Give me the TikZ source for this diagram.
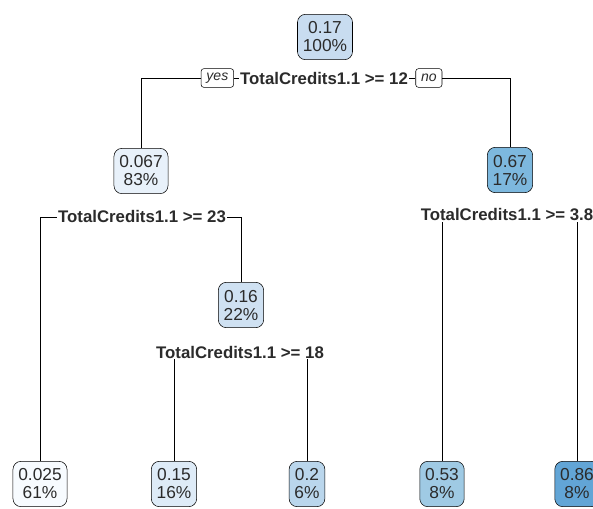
\documentclass[tikz,border=0pt]{standalone}
\usepackage{fontspec}
\setmainfont{Liberation Sans}
\usetikzlibrary{positioning, backgrounds}

\definecolor{txt}{HTML}{2B2B2B}
\definecolor{b0}{HTML}{F7FBFF}
\definecolor{b1}{HTML}{E8F1FA}
\definecolor{b2}{HTML}{DEEBF7}
\definecolor{b3}{HTML}{CFE1F2}
\definecolor{b4}{HTML}{C8DCF0}
\definecolor{b5}{HTML}{BAD6EC}
\definecolor{b6}{HTML}{9FCAE4}
\definecolor{b7}{HTML}{7DB8DE}
\definecolor{b8}{HTML}{62A5D6}

\begin{document}
\begin{tikzpicture}[x=0.75pt, y=-0.75pt,
    tnode/.style={draw, rounded corners=6pt, align=center, text=txt, inner xsep=4pt, minimum height=34pt,
        font=\fontsize{13}{13.5}\selectfont},
    splitlbl/.style={fill=white, inner sep=0.5pt, text=txt, font=\fontsize{12.6}{13}\selectfont\bfseries},
    yesno/.style={draw, rounded corners=2pt, fill=white, inner xsep=4pt, inner ysep=2pt, minimum height=14pt,
        text=txt, font=\fontsize{10.5}{11}\selectfont\itshape}]
    \useasboundingbox (0,0) rectangle (593,508);
    % tree nodes
    \node[tnode, fill=b4] (n1) at (325,37) {0.17\\100\%};
    \node[tnode, fill=b1] (n2) at (141,171) {0.067\\83\%};
    \node[tnode, fill=b7] (n3) at (510,170) {0.67\\17\%};
    \node[tnode, fill=b3] (n4) at (241,305) {0.16\\22\%};
    \node[tnode, fill=b0] (l1) at (40,484) {0.025\\61\%};
    \node[tnode, fill=b2] (l2) at (174,484) {0.15\\16\%};
    \node[tnode, fill=b5] (l3) at (307,484) {0.2\\6\%};
    \node[tnode, fill=b6] (l4) at (442,484) {0.53\\8\%};
    \node[tnode, fill=b8] (l5) at (577,484) {0.86\\8\%};
    % split labels
    \node[splitlbl] (s1) at (324,78) {TotalCredits1.1 >= 12};
    \node[yesno, left=4pt of s1] (yes) {yes};
    \node[yesno, right=5pt of s1] (no) {no};
    \node[splitlbl] (s2) at (142,217) {TotalCredits1.1 >= 23};
    \node[splitlbl] (s3) at (507,215) {TotalCredits1.1 >= 3.8};
    \node[splitlbl] (s4) at (240,352) {TotalCredits1.1 >= 18};
    % connectors
    \begin{scope}[on background layer]
        \draw (yes.east) -- (no.west);
        \draw (yes.west) -| (n2.north);
        \draw (no.east) -| (n3.north);
        \draw (l1.north) |- (s2) -| (n4.north);
        \draw (l2.north) -- (l2.north |- s4.south);
        \draw (l3.north) -- (l3.north |- s4.south);
        \draw (l4.north) -- (l4.north |- s3.south);
        \draw (l5.north) -- (l5.north |- s3.south);
    \end{scope}
\end{tikzpicture}
\end{document}
